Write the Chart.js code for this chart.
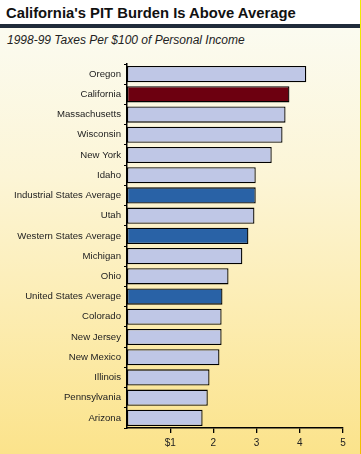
<!DOCTYPE html>
<html>
<head>
<meta charset="utf-8">
<script src="https://cdn.jsdelivr.net/npm/chart.js@4/dist/chart.umd.min.js"></script>
<style>
    html, body { margin: 0; padding: 0; background: #fff; }
    #frame { position: relative; width: 361px; height: 454px; overflow: hidden; background: #fff; }
    #title {
        position: absolute; left: 6px; top: 5px;
        font: bold 14.8px "Liberation Sans", Arial, sans-serif; color: #111;
        white-space: nowrap;
    }
    #rule { position: absolute; left: 0; top: 24px; width: 360px; height: 4px; background: #1f2b3a; }
    #panel {
        position: absolute; left: 0; top: 28px; width: 360px; height: 426px;
        background: linear-gradient(to bottom, #fbfbf0 0%, #fcf5d6 35%, #fcedb4 65%, #fbe38b 100%);
    }
    #subtitle {
        position: absolute; left: 7px; top: 5px;
        font: italic 12px "Liberation Sans", Arial, sans-serif; color: #222;
        white-space: nowrap;
    }
    #edge { position: absolute; left: 360px; top: 0; width: 1px; height: 454px;
        background: linear-gradient(to bottom, #eeee00, #f2c000); }
    #chartCanvas { position: absolute; left: 0; top: 0; }
</style>
</head>
<body>
<div id="frame">
    <div id="title">California's PIT Burden Is Above Average</div>
    <div id="rule"></div>
    <div id="panel">
        <div id="subtitle">1998-99 Taxes Per $100 of Personal Income</div>
        <canvas id="chartCanvas" width="360" height="426"></canvas>
    </div>
    <div id="edge"></div>
</div>
<script>
// Chart data
const categories = [
    'Oregon', 'California', 'Massachusetts', 'Wisconsin', 'New York', 'Idaho',
    'Industrial States Average', 'Utah', 'Western States Average', 'Michigan', 'Ohio',
    'United States Average', 'Colorado', 'New Jersey', 'New Mexico', 'Illinois',
    'Pennsylvania', 'Arizona'
];
const taxPer100 = [
    4.15, 3.76, 3.67, 3.60, 3.35, 2.98,
    2.98, 2.95, 2.81, 2.67, 2.35,
    2.21, 2.19, 2.19, 2.14, 1.91,
    1.87, 1.75
];
// 'ca' = California, 'avg' = an average, 'state' = other state
const barKinds = [
    'state', 'ca', 'state', 'state', 'state', 'state',
    'avg', 'state', 'avg', 'state', 'state',
    'avg', 'state', 'state', 'state', 'state',
    'state', 'state'
];
const xTicks = [1, 2, 3, 4, 5];

const kindColors = { state: '#bfc7e6', ca: '#6d0010', avg: '#2962a6' };
const labelFont = { family: '"Liberation Sans", Arial, sans-serif', size: 9.6 };

const ctx = document.getElementById('chartCanvas').getContext('2d');
new Chart(ctx, {
    type: 'bar',
    data: {
        labels: categories,
        datasets: [{
            data: taxPer100,
            backgroundColor: barKinds.map(k => kindColors[k]),
            borderColor: '#000',
            borderWidth: 1.3,
            borderSkipped: false,
            barPercentage: 0.8,
            categoryPercentage: 1
        }]
    },
    options: {
        indexAxis: 'y',
        responsive: false,
        animation: false,
        layout: { padding: { top: 36, right: 17, bottom: 0, left: 0 } },
        plugins: {
            legend: { display: false },
            tooltip: { enabled: false }
        },
        scales: {
            x: {
                min: 0,
                max: 5,
                afterBuildTicks: (scale) => {
                    scale.ticks = xTicks.map(v => ({ value: v }));
                },
                afterFit: (scale) => { scale.height = 26; },
                ticks: {
                    color: '#222',
                    font: { family: labelFont.family, size: 10 },
                    padding: 4,
                    maxRotation: 0,
                    callback: (v) => v === 1 ? '$1' : String(v)
                },
                grid: {
                    drawOnChartArea: false,
                    drawTicks: true,
                    tickLength: 5,
                    color: '#000',
                    lineWidth: 1.3
                },
                border: { display: true, color: '#000', width: 1.5 }
            },
            y: {
                afterFit: (scale) => { scale.width = 127; },
                ticks: {
                    color: '#222',
                    font: labelFont,
                    padding: 3
                },
                grid: {
                    drawOnChartArea: false,
                    drawTicks: true,
                    tickLength: 3,
                    offset: true,
                    color: '#000',
                    lineWidth: 1
                },
                border: { display: true, color: '#000', width: 1.5 }
            }
        }
    }
});
</script>
</body>
</html>
